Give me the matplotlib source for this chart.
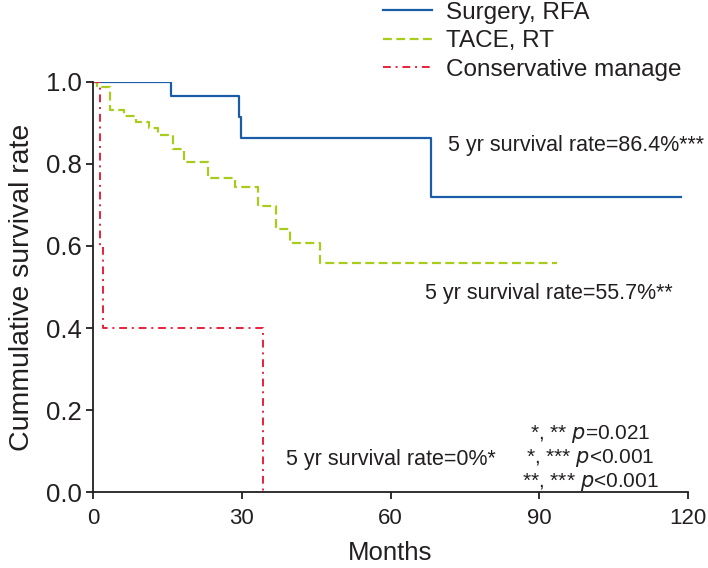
import numpy as np
import matplotlib.pyplot as plt

plt.rcParams['font.family'] = ['Liberation Sans', 'DejaVu Sans']

# Kaplan-Meier steps (months, survival after the step)
surg_t = [0, 15.7, 29.4, 29.8, 68.2, 118.5]
surg_s = [1.0, 0.965, 0.913, 0.864, 0.72, 0.72]

tace_t = [0, 0.7, 3.4, 6.2, 8.7, 11.3, 13.1, 16.2, 18.3, 23.2, 28.7, 33.3, 37.0, 39.7, 45.8, 93.5]
tace_s = [1.0, 0.987, 0.930, 0.916, 0.902, 0.887, 0.871, 0.837, 0.805, 0.765, 0.744, 0.698, 0.641, 0.606, 0.558, 0.558]

cons_t = [0, 1.4, 2.1, 34.2, 34.2]
cons_s = [1.0, 0.6, 0.4, 0.0, 0.0]

labels = ['Surgery, RFA', 'TACE, RT', 'Conservative manage']
colors = ['#1b5ca8', '#a8cc1c', '#e8203a']
ink = '#231f20'

fig = plt.figure(figsize=(7.08, 5.68), dpi=100)
ax = fig.add_axes([0.1314, 0.1333, 0.8404, 0.7229])

ax.step(surg_t, surg_s, where='post', color=colors[0], lw=1.6, label=labels[0])
ax.step(tace_t, tace_s, where='post', color=colors[1], lw=1.6, dashes=(4, 2), label=labels[1])
ax.step(cons_t, cons_s, where='post', color=colors[2], lw=1.4, dashes=(4, 2.5, 1, 2.5), label=labels[2])

ax.set_xlim(0, 120)
ax.set_ylim(0, 1.0)
ax.set_xticks([0, 30, 60, 90, 120])
ax.set_yticks([0.0, 0.2, 0.4, 0.6, 0.8, 1.0])
ax.set_yticklabels(['0.0', '0.2', '0.4', '0.6', '0.8', '1.0'])
for s in ['top', 'right']:
    ax.spines[s].set_visible(False)
for s in ['left', 'bottom']:
    ax.spines[s].set_color(ink)
    ax.spines[s].set_linewidth(1.3)
ax.tick_params(axis='both', direction='out', length=5, width=1.3, colors=ink,
               labelcolor=ink)
ax.tick_params(axis='x', pad=6, labelsize=16)
ax.tick_params(axis='y', pad=3, labelsize=18.5)

ax.set_xlabel('Months', fontsize=18.5, color=ink, labelpad=9)
ax.set_ylabel('Cummulative survival rate', fontsize=20.5, color=ink, labelpad=8)

ax.text(71.5, 0.845, '5 yr survival rate=86.4%***', fontsize=15.5, color=ink,
        va='center', ha='left')
ax.text(67, 0.485, '5 yr survival rate=55.7%**', fontsize=15.5, color=ink,
        va='center', ha='left')
ax.text(39, 0.08, '5 yr survival rate=0%*', fontsize=15.5, color=ink,
        va='center', ha='left')

ax.text(100.3, 0.1425, '*, ** $p$=0.021', fontsize=15, color=ink, ha='center', va='center')
ax.text(100.3, 0.084, '*, *** $p$<0.001', fontsize=15, color=ink, ha='center', va='center')
ax.text(100.3, 0.0255, '**, *** $p$<0.001', fontsize=15, color=ink, ha='center', va='center')

fig.legend(loc='upper left', bbox_to_anchor=(0.541, 0.997), frameon=False,
           fontsize=17.5, handlelength=2.0, handletextpad=0.6, labelspacing=0.27,
           borderpad=0, borderaxespad=0, labelcolor=ink)

fig.savefig('out.png', dpi=100)
